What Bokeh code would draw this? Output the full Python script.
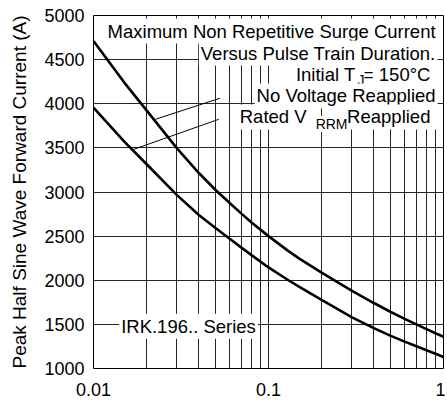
from bokeh.plotting import figure
from bokeh.models import FixedTicker, Label, Range1d, CustomJSTickFormatter
from bokeh.embed import file_html
from bokeh.resources import INLINE

# ---- data ----
duration = [0.01, 0.015, 0.02, 0.03, 0.04, 0.05, 0.06, 0.07, 0.08, 0.1,
            0.13, 0.15, 0.2, 0.3, 0.4, 0.5, 0.6, 0.7, 0.8, 0.9, 1.0]
no_voltage = [4710, 4240, 3930, 3495, 3215, 3020, 2875, 2755, 2655, 2500,
              2330, 2245, 2090, 1880, 1742, 1640, 1562, 1500, 1446, 1400, 1360]
rated_vrrm = [3955, 3570, 3320, 2965, 2740, 2590, 2470, 2370, 2285, 2145,
              2000, 1925, 1780, 1580, 1458, 1370, 1305, 1252, 1207, 1167, 1130]

x_ticks = [0.01, 0.1, 1.0]
x_tick_labels = ["0.01", "0.1", "1"]
x_minor = [0.02, 0.03, 0.04, 0.05, 0.06, 0.07, 0.08, 0.09,
           0.2, 0.3, 0.4, 0.5, 0.6, 0.7, 0.8, 0.9]
y_ticks = [1000, 1500, 2000, 2500, 3000, 3500, 4000, 4500, 5000]

# leader lines (annotation pointers)
leader_x0 = [0.0226, 0.0170]
leader_y0 = [3824, 3484]
leader_x1 = [0.0527, 0.052]
leader_y1 = [4062, 3824]

FONT = "Liberation Sans"
FS = "18.5px"

p = figure(x_axis_type="log", x_range=Range1d(0.01, 1), y_range=Range1d(1000, 5000),
           frame_width=350, frame_height=353,
           min_border_left=93, min_border_right=2, min_border_top=15, min_border_bottom=30,
           output_backend="svg", toolbar_location=None)
p.background_fill_color = "white"
p.border_fill_color = "white"
p.outline_line_color = "black"
p.outline_line_width = 1

xt = FixedTicker(ticks=x_ticks, minor_ticks=x_minor)
p.xaxis.ticker = xt
p.xgrid.ticker = xt
p.xaxis.formatter = CustomJSTickFormatter(args=dict(vals=x_ticks, labels=x_tick_labels), code="""
for (let i = 0; i < vals.length; i++) {
  if (Math.abs(vals[i] - tick) < 1e-9 * vals[i]) return labels[i];
}
return "";
""")
yt = FixedTicker(ticks=y_ticks)
p.yaxis.ticker = yt
p.ygrid.ticker = yt

for g in (p.xgrid, p.ygrid):
    g.grid_line_color = "black"
    g.grid_line_width = 1
    g.grid_line_alpha = 0.85
p.xgrid.minor_grid_line_color = "black"
p.xgrid.minor_grid_line_alpha = 0.85

for ax in (p.xaxis, p.yaxis):
    ax.axis_line_color = None
    ax.major_tick_line_color = None
    ax.minor_tick_line_color = None
    ax.major_label_text_font = FONT
    ax.major_label_text_font_size = "18px"
    ax.major_label_text_color = "black"
p.xaxis.major_label_standoff = 8
p.yaxis.major_label_standoff = 3

p.yaxis.axis_label = "Peak Half Sine Wave Forward Current (A)"
p.yaxis.axis_label_text_font = FONT
p.yaxis.axis_label_text_font_size = "19px"
p.yaxis.axis_label_text_font_style = "normal"
p.yaxis.axis_label_text_color = "black"
p.yaxis.axis_label_standoff = 11

p.line(duration, no_voltage, line_color="black", line_width=2.6)
p.line(duration, rated_vrrm, line_color="black", line_width=2.6)
p.segment(leader_x0, leader_y0, leader_x1, leader_y1, line_color="black", line_width=1)


def lab(text, x, y, align="right", size=FS, pad=2):
    p.add_layout(Label(x=x, y=y, text=text, text_align=align, text_baseline="middle",
                       text_font=FONT, text_font_size=size, text_color="black",
                       background_fill_color="white", padding=pad))


XR = 0.925
lab("Maximum Non Repetitive Surge Current", XR, 4824)
lab("Versus Pulse Train Duration.", XR, 4575)
lab(" = 150°C", XR, 4337)
lab("J", 0.3537, 4269, size="14px", pad=0)
lab("Initial T", 0.3226, 4337)
lab("No Voltage Reapplied", XR, 4088)
lab(" Reapplied", XR, 3850)
lab("RRM", 0.2828, 3771, size="14px", pad=0)
lab("Rated V", 0.1695, 3850)
lab("IRK.196.. Series", 0.0349, 1480, align="center")

open("out.html", "w").write(file_html(p, INLINE))
